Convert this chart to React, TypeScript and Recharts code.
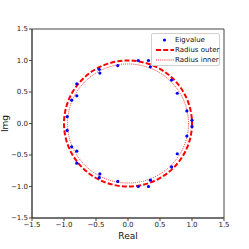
import { ScatterChart, Scatter, XAxis, YAxis, ReferenceArea } from "recharts";

// eigenvalues (upper half, conjugates mirrored below)
const eigReal = [0.16, 0.32, 0.35, -0.16, -0.45, -0.44, -0.8, -0.8, -0.88, -0.95, 0.68, 0.77, 0.92, 1.0];
const eigImag = [1.0, 1.0, 0.9, 0.92, 0.86, 0.8, 0.63, 0.44, 0.37, 0.11, 0.69, 0.48, 0.2, 0.05];

const radiusOuter = 1.0;
const radiusInner = 0.945;

const axisTicks = [-1.5, -1.0, -0.5, 0.0, 0.5, 1.0, 1.5];
const axisDomain = [-1.5, 1.5];

const points = [
  ...eigReal.map((re, i) => ({ x: re, y: eigImag[i] })),
  ...eigReal.map((re, i) => ({ x: re, y: -eigImag[i] })),
];

const FONT = "'DejaVu Sans', sans-serif";
const fmt = (v: number) => v.toFixed(1).replace("-", "\u2212");

const Dot = (props: any) => <circle cx={props.cx} cy={props.cy} r={1.6} fill="#0000ff" />;

const ellipse = (stroke: string, width: number, dash: string) => (props: any) => (
  <ellipse
    cx={props.x + props.width / 2}
    cy={props.y + props.height / 2}
    rx={Math.abs(props.width) / 2}
    ry={Math.abs(props.height) / 2}
    fill="none"
    stroke={stroke}
    strokeWidth={width}
    strokeDasharray={dash}
  />
);

const legendRows = [
  { name: "Eigvalue", kind: "dot" },
  { name: "Radius outer", kind: "outer" },
  { name: "Radius inner", kind: "inner" },
];

export default function App() {
  return (
    <div style={{ position: "absolute", left: 0, top: 0, width: 249, height: 249, background: "#fff" }}>
      <ScatterChart width={249} height={249} margin={{ top: 29, right: 25, left: 0, bottom: 0 }}>
        <XAxis
          type="number"
          dataKey="x"
          domain={axisDomain}
          ticks={axisTicks}
          allowDataOverflow
          height={31}
          tickFormatter={fmt}
          tick={{ fill: "#222", fontSize: 7, fontFamily: FONT }}
          tickSize={3}
          tickMargin={1}
          stroke="#444"
          label={{ value: "Real", position: "insideBottom", offset: 10, fontSize: 9, fontFamily: FONT, fill: "#111" }}
        />
        <YAxis
          type="number"
          dataKey="y"
          domain={axisDomain}
          ticks={axisTicks}
          allowDataOverflow
          width={32}
          tickFormatter={fmt}
          tick={{ fill: "#222", fontSize: 7, fontFamily: FONT }}
          tickSize={3}
          tickMargin={1}
          stroke="#444"
          label={{
            content: (p: any) => {
              const cx = 5;
              const cy = p.viewBox.y + p.viewBox.height / 2;
              return (
                <text x={cx} y={cy} transform={`rotate(-90 ${cx} ${cy})`} textAnchor="middle" dominantBaseline="central"
                  fontSize={9} fontFamily={FONT} fill="#111">Img</text>
              );
            },
          }}
        />
        <ReferenceArea x1={-1.5} x2={1.5} y1={-1.5} y2={1.5} fill="none" stroke="#444" strokeWidth={1} ifOverflow="visible" />
        <ReferenceArea x1={-radiusOuter} x2={radiusOuter} y1={-radiusOuter} y2={radiusOuter} ifOverflow="visible"
          shape={ellipse("#ff0000", 2, "5 2.2")} />
        <ReferenceArea x1={-radiusInner} x2={radiusInner} y1={-radiusInner} y2={radiusInner} ifOverflow="visible"
          shape={ellipse("#ff2a2a", 1, "1 1.1")} />
        <Scatter data={points} shape={Dot} isAnimationActive={false} />
      </ScatterChart>
      <div style={{
        position: "absolute", left: 151, top: 33, width: 69, height: 33, boxSizing: "border-box",
        border: "1px solid #d0d0d0", borderRadius: 2, background: "rgba(255,255,255,0.85)",
        fontFamily: FONT, fontSize: 7, color: "#111",
      }}>
        {legendRows.map((r, i) => (
          <div key={r.name} style={{ position: "absolute", left: 3, top: 1 + i * 10, height: 10, display: "flex", alignItems: "center" }}>
            <svg width={20} height={10}>
              {r.kind === "dot" && <circle cx={9.5} cy={5} r={1.6} fill="#0000ff" />}
              {r.kind === "outer" && <line x1={1} x2={19} y1={5} y2={5} stroke="#ff0000" strokeWidth={2} strokeDasharray="5 2.2" />}
              {r.kind === "inner" && <line x1={1} x2={19} y1={5} y2={5} stroke="#ff2a2a" strokeWidth={1} strokeDasharray="1 1.1" />}
            </svg>
            <span style={{ whiteSpace: "nowrap", marginLeft: 0 }}>{r.name}</span>
          </div>
        ))}
      </div>
    </div>
  );
}
